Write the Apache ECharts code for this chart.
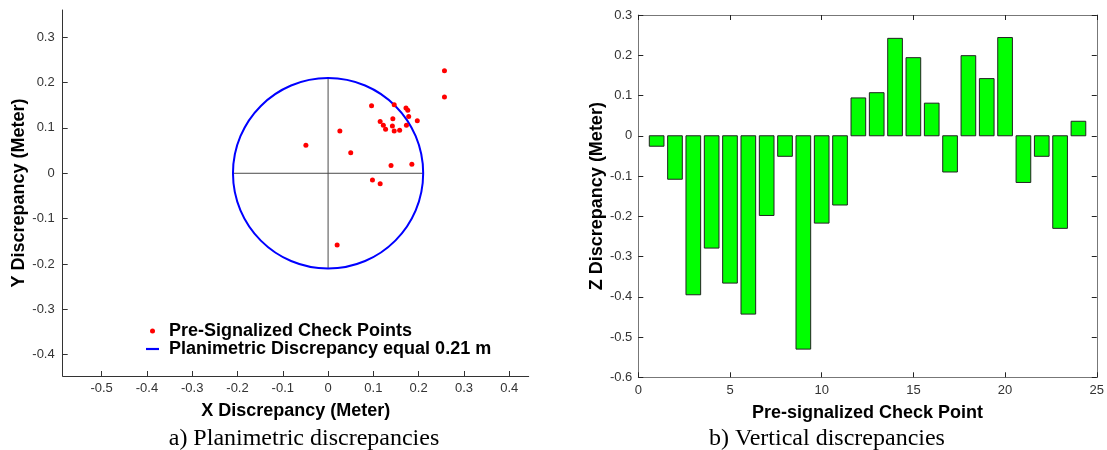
<!DOCTYPE html>
<html><head><meta charset="utf-8">
<script src="https://cdn.jsdelivr.net/npm/echarts@6/dist/echarts.min.js"></script>
<style>html,body{margin:0;padding:0;background:#fff}#c{width:1107px;height:450px}</style>
</head><body><div id="c"></div>
<script>
// ---- data: a) planimetric discrepancies ----
const planX = [0.257, 0.257, 0.096, 0.146, 0.172, 0.176, 0.178, 0.197, 0.115, 0.143, 0.122, 0.142,
               0.127, 0.146, 0.158, 0.173, 0.026, -0.049, 0.050, 0.139, 0.185, 0.098, 0.115, 0.020];
const planY = [0.226, 0.168, 0.149, 0.151, 0.144, 0.139, 0.125, 0.116, 0.114, 0.120, 0.106, 0.104,
               0.097, 0.093, 0.095, 0.106, 0.093, 0.062, 0.045, 0.017, 0.020, -0.015, -0.023, -0.158];
const circleRadius = 0.21;
const xTicksA = [-0.5, -0.4, -0.3, -0.2, -0.1, 0, 0.1, 0.2, 0.3, 0.4];
const yTicksA = [-0.4, -0.3, -0.2, -0.1, 0, 0.1, 0.2, 0.3];

// ---- data: b) vertical discrepancies ----
const checkPoints = [1, 2, 3, 4, 5, 6, 7, 8, 9, 10, 11, 12, 13, 14, 15, 16, 17, 18, 19, 20, 21, 22, 23, 24];
const zDisc = [-0.026, -0.108, -0.395, -0.279, -0.366, -0.443, -0.198, -0.051, -0.530, -0.217, -0.172, 0.094,
               0.107, 0.242, 0.194, 0.081, -0.090, 0.199, 0.142, 0.244, -0.116, -0.051, -0.230, 0.036];

const SANS = '"Liberation Sans", Arial, sans-serif';
const SERIF = '"Liberation Serif", "Times New Roman", serif';
const tickLabel = {fontFamily: SANS, fontSize: 13, color: '#333'};
const nameStyle = {fontFamily: SANS, fontSize: 18, fontWeight: 'bold', color: '#000'};
const barWidthUnits = 0.8;

const scatterData = planX.map((x, i) => [x, planY[i]]);
const barData = checkPoints.map((c, i) => [c, zDisc[i]]);

const chart = echarts.init(document.getElementById('c'), null, {renderer: 'canvas'});
chart.setOption({
  animation: false,
  backgroundColor: '#fff',
  title: [
    {text: 'a) Planimetric discrepancies', left: 304, top: 427, textAlign: 'center', padding: 0,
     textStyle: {fontFamily: SERIF, fontSize: 24, fontWeight: 'normal', color: '#000'}},
    {text: 'b) Vertical discrepancies', left: 827, top: 427, textAlign: 'center', padding: 0,
     textStyle: {fontFamily: SERIF, fontSize: 24, fontWeight: 'normal', color: '#000'}}
  ],
  legend: {
    left: 146, top: 322, orient: 'vertical', itemGap: 0, itemWidth: 13, itemHeight: 5, padding: 0,
    selectedMode: false,
    textStyle: {fontFamily: SANS, fontSize: 18, fontWeight: 'bold', color: '#000', padding: [0, 0, 0, 5]},
    data: [
      {name: 'Pre-Signalized Check Points', icon: 'circle', itemStyle: {color: '#ff0000', opacity: 1}},
      {name: 'Planimetric Discrepancy equal 0.21 m', icon: 'path://M0,0L12,0L12,2L0,2Z', itemStyle: {color: '#0000ff'}}
    ]
  },
  grid: [
    {left: 62.7, top: 10, width: 466, height: 366},
    {left: 638.3, top: 15, width: 460, height: 362.3}
  ],
  xAxis: [
    {type: 'value', gridIndex: 0, min: -0.586, max: 0.443, position: 'bottom',
     axisLine: {show: true, onZero: false, lineStyle: {color: '#333', width: 1}},
     axisTick: {show: true, inside: true, length: 5, customValues: xTicksA, lineStyle: {color: '#333'}},
     axisLabel: {customValues: xTicksA, margin: 6, ...tickLabel},
     splitLine: {show: false},
     name: 'X Discrepancy (Meter)', nameLocation: 'middle', nameGap: 26, nameTextStyle: nameStyle},
    {type: 'value', gridIndex: 1, min: 0, max: 25, interval: 5, position: 'bottom',
     axisLine: {show: true, onZero: false, lineStyle: {color: '#777', width: 1}},
     axisTick: {show: true, inside: true, length: 5, lineStyle: {color: '#222'}},
     axisLabel: {margin: 7, ...tickLabel},
     splitLine: {show: false},
     name: 'Pre-signalized Check Point', nameLocation: 'middle', nameGap: 27, nameTextStyle: nameStyle},
    {type: 'value', gridIndex: 1, min: 0, max: 25, interval: 5, position: 'top',
     axisLine: {show: true, onZero: false, lineStyle: {color: '#777', width: 1}},
     axisTick: {show: true, inside: true, length: 5, lineStyle: {color: '#222'}},
     axisLabel: {show: false}, splitLine: {show: false}}
  ],
  yAxis: [
    {type: 'value', gridIndex: 0, min: -0.447, max: 0.36, position: 'left',
     axisLine: {show: true, onZero: false, lineStyle: {color: '#333', width: 1}},
     axisTick: {show: true, inside: true, length: 5, customValues: yTicksA, lineStyle: {color: '#333'}},
     axisLabel: {customValues: yTicksA, margin: 8, ...tickLabel},
     splitLine: {show: false},
     name: 'Y Discrepancy (Meter)', nameLocation: 'middle', nameGap: 32, nameTextStyle: nameStyle},
    {type: 'value', gridIndex: 1, min: -0.6, max: 0.3, interval: 0.1, position: 'left',
     axisLine: {show: true, onZero: false, lineStyle: {color: '#777', width: 1}},
     axisTick: {show: true, inside: true, length: 5, lineStyle: {color: '#222'}},
     axisLabel: {margin: 6, ...tickLabel},
     splitLine: {show: false},
     name: 'Z Discrepancy (Meter)', nameLocation: 'middle', nameGap: 30, nameTextStyle: nameStyle},
    {type: 'value', gridIndex: 1, min: -0.6, max: 0.3, interval: 0.1, position: 'right',
     axisLine: {show: true, onZero: false, lineStyle: {color: '#777', width: 1}},
     axisTick: {show: true, inside: true, length: 5, lineStyle: {color: '#222'}},
     axisLabel: {show: false}, splitLine: {show: false}}
  ],
  series: [
    {
      name: 'Planimetric Discrepancy equal 0.21 m', type: 'custom', xAxisIndex: 0, yAxisIndex: 0,
      itemStyle: {color: '#0000ff'},
      data: [[0, 0, circleRadius]],
      encode: {x: 0, y: 1},
      renderItem: function (params, api) {
        const c = api.coord([api.value(0), api.value(1)]);
        const s = api.size([api.value(2), api.value(2)]);
        const rx = s[0], ry = s[1];
        return {type: 'group', children: [
          {type: 'line', shape: {x1: c[0] - rx, y1: c[1], x2: c[0] + rx, y2: c[1]}, style: {stroke: '#4a4a4a', lineWidth: 1}},
          {type: 'line', shape: {x1: c[0], y1: c[1] - ry, x2: c[0], y2: c[1] + ry}, style: {stroke: '#4a4a4a', lineWidth: 1}},
          {type: 'ellipse', shape: {cx: c[0], cy: c[1], rx: rx, ry: ry}, style: {fill: null, stroke: '#0000ff', lineWidth: 2}}
        ]};
      }
    },
    {
      name: 'Pre-Signalized Check Points', type: 'scatter', xAxisIndex: 0, yAxisIndex: 0,
      symbol: 'circle', symbolSize: 5, itemStyle: {color: '#ff0000', opacity: 1},
      data: scatterData
    },
    {
      name: 'Z', type: 'custom', xAxisIndex: 1, yAxisIndex: 1,
      data: barData, encode: {x: 0, y: 1},
      renderItem: function (params, api) {
        const x = api.value(0), v = api.value(1);
        const a = api.coord([x - barWidthUnits / 2, 0]);
        const b = api.coord([x + barWidthUnits / 2, v]);
        return {type: 'rect',
          shape: {x: Math.min(a[0], b[0]), y: Math.min(a[1], b[1]), width: Math.abs(b[0] - a[0]), height: Math.abs(b[1] - a[1])},
          style: {fill: '#00ff00', stroke: '#222', lineWidth: 1}};
      }
    }
  ]
});
</script>
</body></html>
